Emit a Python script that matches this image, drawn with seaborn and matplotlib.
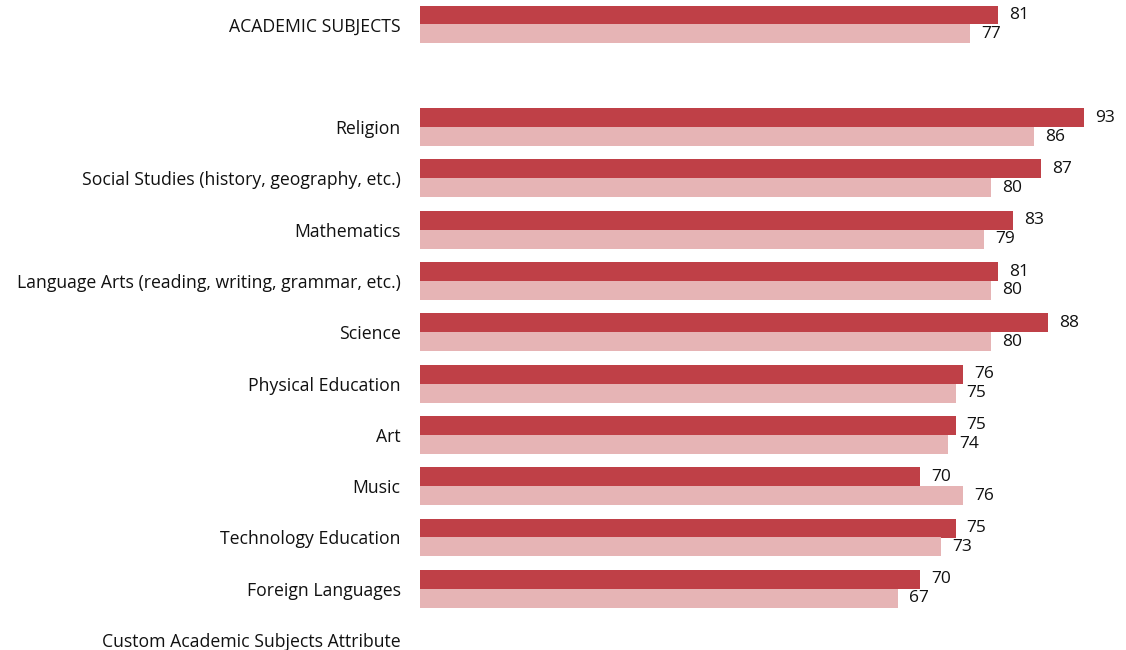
import pandas as pd
import numpy as np
import matplotlib
matplotlib.use('Agg')
import matplotlib.pyplot as plt
import seaborn as sns

# categories shown on the y axis (blank slot + trailing footer label carry no bars)
categories = ['ACADEMIC SUBJECTS', ' ', 'Religion', 'Social Studies (history, geography, etc.)',
              'Mathematics', 'Language Arts (reading, writing, grammar, etc.)', 'Science',
              'Physical Education', 'Art', 'Music', 'Technology Education', 'Foreign Languages',
              'Custom Academic Subjects Attribute']
bar_categories = ['ACADEMIC SUBJECTS', 'Religion', 'Social Studies (history, geography, etc.)',
                  'Mathematics', 'Language Arts (reading, writing, grammar, etc.)', 'Science',
                  'Physical Education', 'Art', 'Music', 'Technology Education', 'Foreign Languages']
series_a = [81, 93, 87, 83, 81, 88, 76, 75, 70, 75, 70]
series_b = [77, 86, 80, 79, 80, 80, 75, 74, 76, 73, 67]
series_names = ['Series A', 'Series B']
colors = ['#BF4047', '#E6B4B5']

df = pd.DataFrame({
    'category': bar_categories * 2,
    'series': [series_names[0]] * len(bar_categories) + [series_names[1]] * len(bar_categories),
    'value': series_a + series_b,
})

sns.set_theme(style='white')
plt.rcParams['font.family'] = ['Open Sans', 'DejaVu Sans']

fig = plt.figure(figsize=(11.26, 6.5), dpi=100)
ax = fig.add_axes([420 / 1126, 0, 700 / 1126, 1])

sns.barplot(data=df, y='category', x='value', hue='series', order=categories,
            hue_order=series_names, palette=colors, orient='h', width=0.74,
            saturation=1, errorbar=None, linewidth=0, ax=ax, legend=False)

for cont in ax.containers:
    ax.bar_label(cont, padding=8, fontsize=12.5, color='#111111')

ax.set_xlim(0, 700 / 7.14)
ax.set_ylim((650 - 24.5) / 51.3, -24.5 / 51.3)
ax.set_xlabel('')
ax.set_ylabel('')
ax.set_xticks([])
ax.tick_params(axis='y', length=0, pad=14, labelsize=12.7, labelcolor='#111111')
sns.despine(ax=ax, left=True, bottom=True)

fig.savefig('out.png', dpi=100)
